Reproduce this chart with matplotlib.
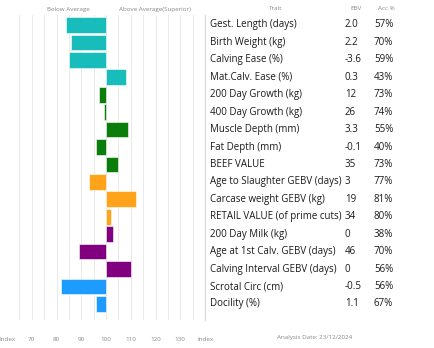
# EBV bar chart with trait table on the right
import matplotlib.pyplot as plt
from matplotlib.transforms import blended_transform_factory

plt.rcParams['font.family'] = ['Open Sans', 'DejaVu Sans']

# data
traits = ["Gest. Length (days)", "Birth Weight (kg)", "Calving Ease (%)", "Mat.Calv. Ease (%)",
          "200 Day Growth (kg)", "400 Day Growth (kg)", "Muscle Depth (mm)", "Fat Depth (mm)",
          "BEEF VALUE", "Age to Slaughter GEBV (days)", "Carcase weight GEBV (kg)",
          "RETAIL VALUE (of prime cuts)", "200 Day Milk (kg)", "Age at 1st Calv. GEBV (days)",
          "Calving Interval GEBV (days)", "Scrotal Circ (cm)", "Docility (%)"]
ebv = ["2.0", "2.2", "-3.6", "0.3", "12", "26", "3.3", "-0.1", "35", "3", "19", "34",
       "0", "46", "0", "-0.5", "1.1"]
acc = ["57%", "70%", "59%", "43%", "73%", "74%", "55%", "40%", "73%", "77%", "81%", "80%",
       "38%", "70%", "56%", "56%", "67%"]
index = [84, 86, 85, 108, 97, 99, 109, 96, 105, 93, 112, 102, 103, 89, 110, 82, 96]
groups = ["calving"] * 4 + ["growth"] * 5 + ["carcase"] * 3 + ["fertility"] * 3 + ["scrotal"] * 2
colours = {"calving": "#17bcbb", "growth": "#0a7d0a", "carcase": "#ffa31a",
           "fertility": "#800080", "scrotal": "#1e9bff"}

fig = plt.figure(figsize=(4.35, 3.48), dpi=100)
ax = fig.add_axes([7 / 435, 28 / 348, 198 / 435, 305 / 348])

ypos = list(range(len(traits)))
ax.barh(ypos, [v - 100 for v in index], left=100, height=0.9,
        color=[colours[g] for g in groups], edgecolor="white", linewidth=0.4, zorder=2)

ax.set_xlim(60, 140)
ax.set_ylim(16.92, -0.57)
for x in range(65, 140, 5):
    ax.axvline(x, color="#e6e6e6", linewidth=0.6, zorder=0)
for s in ["top", "left", "bottom"]:
    ax.spines[s].set_visible(False)
ax.spines["right"].set_color("#d9d9d9")
ax.spines["right"].set_linewidth(0.8)
ax.set_yticks([])
ax.set_xticks(range(60, 150, 10))
ax.set_xticklabels(["Index", "70", "80", "90", "100", "110", "120", "130", "Index"])
ax.tick_params(axis="x", length=0, labelsize=4.5, labelcolor="#888888", pad=12)

# headers
fig.text(68 / 435, 1 - 10 / 348, "Below Average", fontsize=4.5, color="#888888", ha="center", va="center")
fig.text(155 / 435, 1 - 10 / 348, "Above Average(Superior)", fontsize=4.5, color="#888888", ha="center", va="center")
fig.text(276 / 435, 1 - 9 / 348, "Trait", fontsize=4.5, color="#888888", ha="center", va="center")
fig.text(356 / 435, 1 - 9 / 348, "EBV", fontsize=4.5, color="#888888", ha="center", va="center")
fig.text(386 / 435, 1 - 9 / 348, "Acc %", fontsize=4.5, color="#888888", ha="center", va="center")

# table
tr = blended_transform_factory(fig.transFigure, ax.transData)
for i in ypos:
    ax.text(210 / 435, i, traits[i], transform=tr, fontsize=7, color="#1a1a1a", va="center", ha="left")
    ax.text(345 / 435, i, ebv[i], transform=tr, fontsize=7, color="#1a1a1a", va="center", ha="left")
    ax.text(374 / 435, i, acc[i], transform=tr, fontsize=7, color="#1a1a1a", va="center", ha="left")

fig.text(315 / 435, 1 - 337 / 348, "Analysis Date: 23/12/2024", fontsize=4.5, color="#888888",
         ha="center", va="center")

fig.savefig("out.png", dpi=100)
